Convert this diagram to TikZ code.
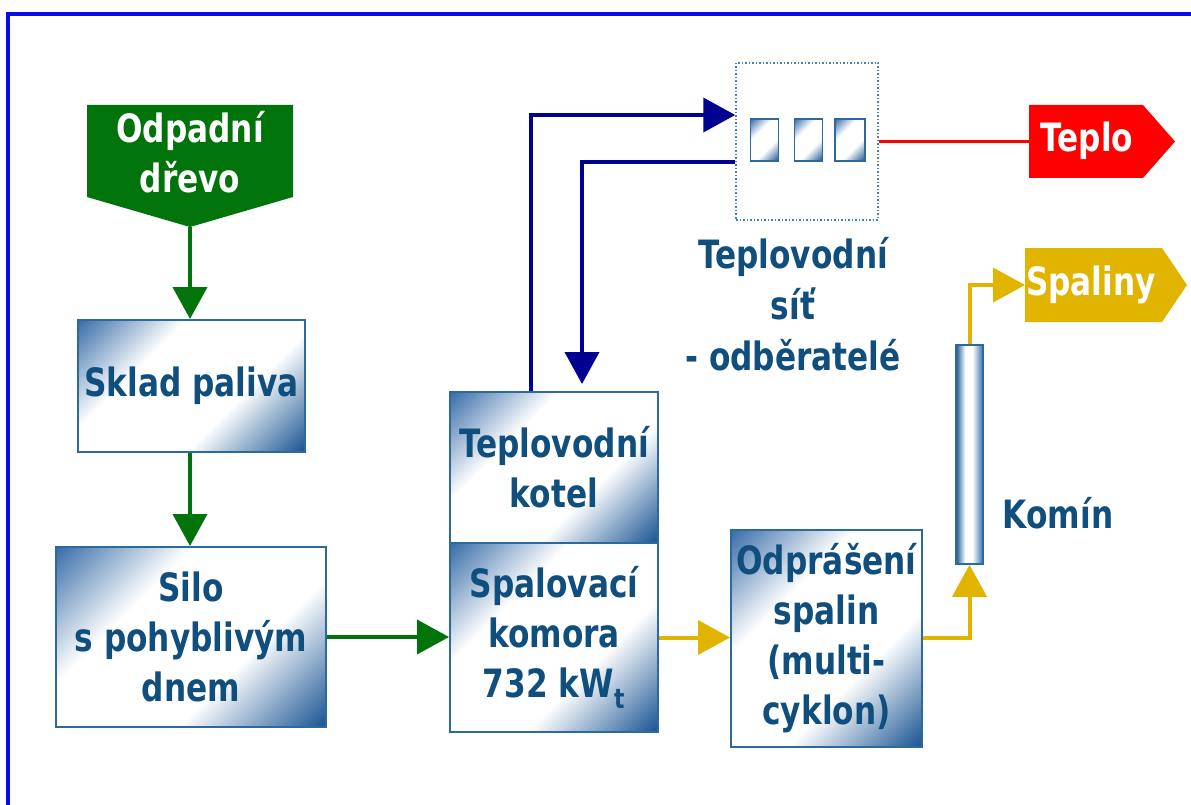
\documentclass[tikz,border=0pt]{standalone}
\usepackage{fontspec}
\newfontfamily\lbl[FakeStretch=0.8]{DejaVu Sans}
\usetikzlibrary{arrows.meta}
\definecolor{txtc}{RGB}{16,78,125}
\definecolor{bord}{RGB}{45,105,155}
\definecolor{bxa}{RGB}{60,112,170}
\definecolor{bxb}{RGB}{28,86,148}
\definecolor{grn}{RGB}{0,115,10}
\definecolor{navy}{RGB}{0,0,145}
\definecolor{yel}{RGB}{225,180,0}
\definecolor{rd}{RGB}{255,0,0}
\definecolor{dotc}{RGB}{70,130,170}
\definecolor{frame}{RGB}{10,10,235}
\pgfdeclarehorizontalshading{boxgrad}{100bp}{color(0bp)=(bxa); color(15bp)=(bxa); color(36bp)=(white); color(62bp)=(white); color(85bp)=(bxb); color(100bp)=(bxb)}
\pgfdeclarehorizontalshading{komgrad}{100bp}{color(0bp)=(bxb); color(25bp)=(bxb); color(42bp)=(white); color(55bp)=(white); color(75bp)=(bxa); color(100bp)=(bxa)}
\tikzset{
  lblfont/.style={font=\lbl\bfseries\fontsize{39}{50}\selectfont},
  procbox/.style={draw=bord, line width=2pt, shade, shading=boxgrad, shading angle=-45,
    text=txtc, lblfont, align=center, inner sep=0pt},
  smallbox/.style={draw=bord, line width=1.5pt, shade, shading=boxgrad, shading angle=-45,
    inner sep=0pt, minimum width=28pt, minimum height=42pt},
  whitetxt/.style={text=white, lblfont, align=center, inner sep=0pt},
  bluetxt/.style={text=txtc, lblfont, align=center, inner sep=0pt},
  tip/.style={-{Triangle[length=32pt,width=34pt]}},
  gflow/.style={draw=grn, line width=4pt, tip},
  yflow/.style={draw=yel, line width=4pt, tip},
  bflow/.style={draw=navy, line width=4pt, tip},
  rline/.style={draw=rd, line width=3pt},
}
\begin{document}
\begin{tikzpicture}[x=1pt,y=-1pt]
\useasboundingbox (0,0) rectangle (1191,805);
\fill[white] (0,0) rectangle (1191,805);
% frame
\draw[frame, line width=4pt] (8,805) -- (8,14) -- (1191,14);

% source: Odpadni drevo
\fill[grn] (87,105) -- (293,105) -- (293,197) -- (190,227) -- (87,197) -- cycle;
\node[whitetxt] (odpad) at (190,152) {Odpadní\\dřevo};
\coordinate (odtip) at (190,227);

% process boxes
\node[procbox, minimum width=227pt, minimum height=132pt] (sklad) at (191.5,386) {Sklad paliva};
\node[procbox, minimum width=270pt, minimum height=180pt] (silo) at (191,637) {Silo\\s pohyblivým\\dnem};
\node[procbox, minimum width=208pt, minimum height=151pt] (kotel) at (554,467.5) {Teplovodní\\kotel};
\node[procbox, minimum width=208pt, minimum height=189pt] (spal) at (554,637.5) {Spalovací\\komora\\732 kW\textsubscript{t}};
\node[procbox, minimum width=191pt, minimum height=217pt] (odpr) at (826.5,638.5) {Odprášení\\spalin\\(multi-\\cyklon)};
\node[draw=bord, line width=1.5pt, shade, shading=komgrad, inner sep=0pt, minimum width=27pt, minimum height=219pt] (komin) at (969.5,454.5) {};
\node[bluetxt] (kominlbl) at (1058,513) {Komín};

% heating network
\node[draw=dotc, dotted, line width=1.5pt, inner sep=0pt, minimum width=142pt, minimum height=157pt] (net) at (807,141.5) {};
\node[smallbox] (c1) at (764.5,140) {};
\node[smallbox] (c2) at (808.5,140) {};
\node[smallbox, minimum width=30pt] (c3) at (850,140) {};
\node[bluetxt, font=\lbl\bfseries\fontsize{39}{51}\selectfont] (netlbl) at (793,304) {Teplovodní\\síť\\- odběratelé};

% outputs
\fill[rd] (1029,105) -- (1143,105) -- (1175,141.5) -- (1143,178) -- (1029,178) -- cycle;
\node[whitetxt] (teplo) at (1087,141) {Teplo};
\coordinate (teplow) at (1029,141.5);
\fill[yel] (1025,248) -- (1162,248) -- (1187,285) -- (1162,322) -- (1025,322) -- cycle;
\node[whitetxt] (spaliny) at (1091,285) {Spaliny};
\coordinate (spw) at (1025,285);

% connectors
\draw[gflow] (odtip) -- (sklad.north -| odtip);
\draw[gflow] (sklad.south -| odtip) -- (silo.north -| odtip);
\draw[gflow] (silo.east) -- (spal.west |- silo.east);
\draw[yflow] (spal.east) -- (spal.east -| odpr.west);
\draw[yflow] (spal.east -| odpr.east) -| (komin.south);
\draw[yflow] (komin.north) |- (spw);
\draw[bflow] ([xshift=-23pt]kotel.north) |- ([yshift=26.5pt]net.west);
\draw[bflow, shorten >=7pt] ([yshift=-20.5pt]net.west) -| ([xshift=28pt]kotel.north);
\draw[rline] (net.east) -- (teplow);
\end{tikzpicture}
\end{document}
